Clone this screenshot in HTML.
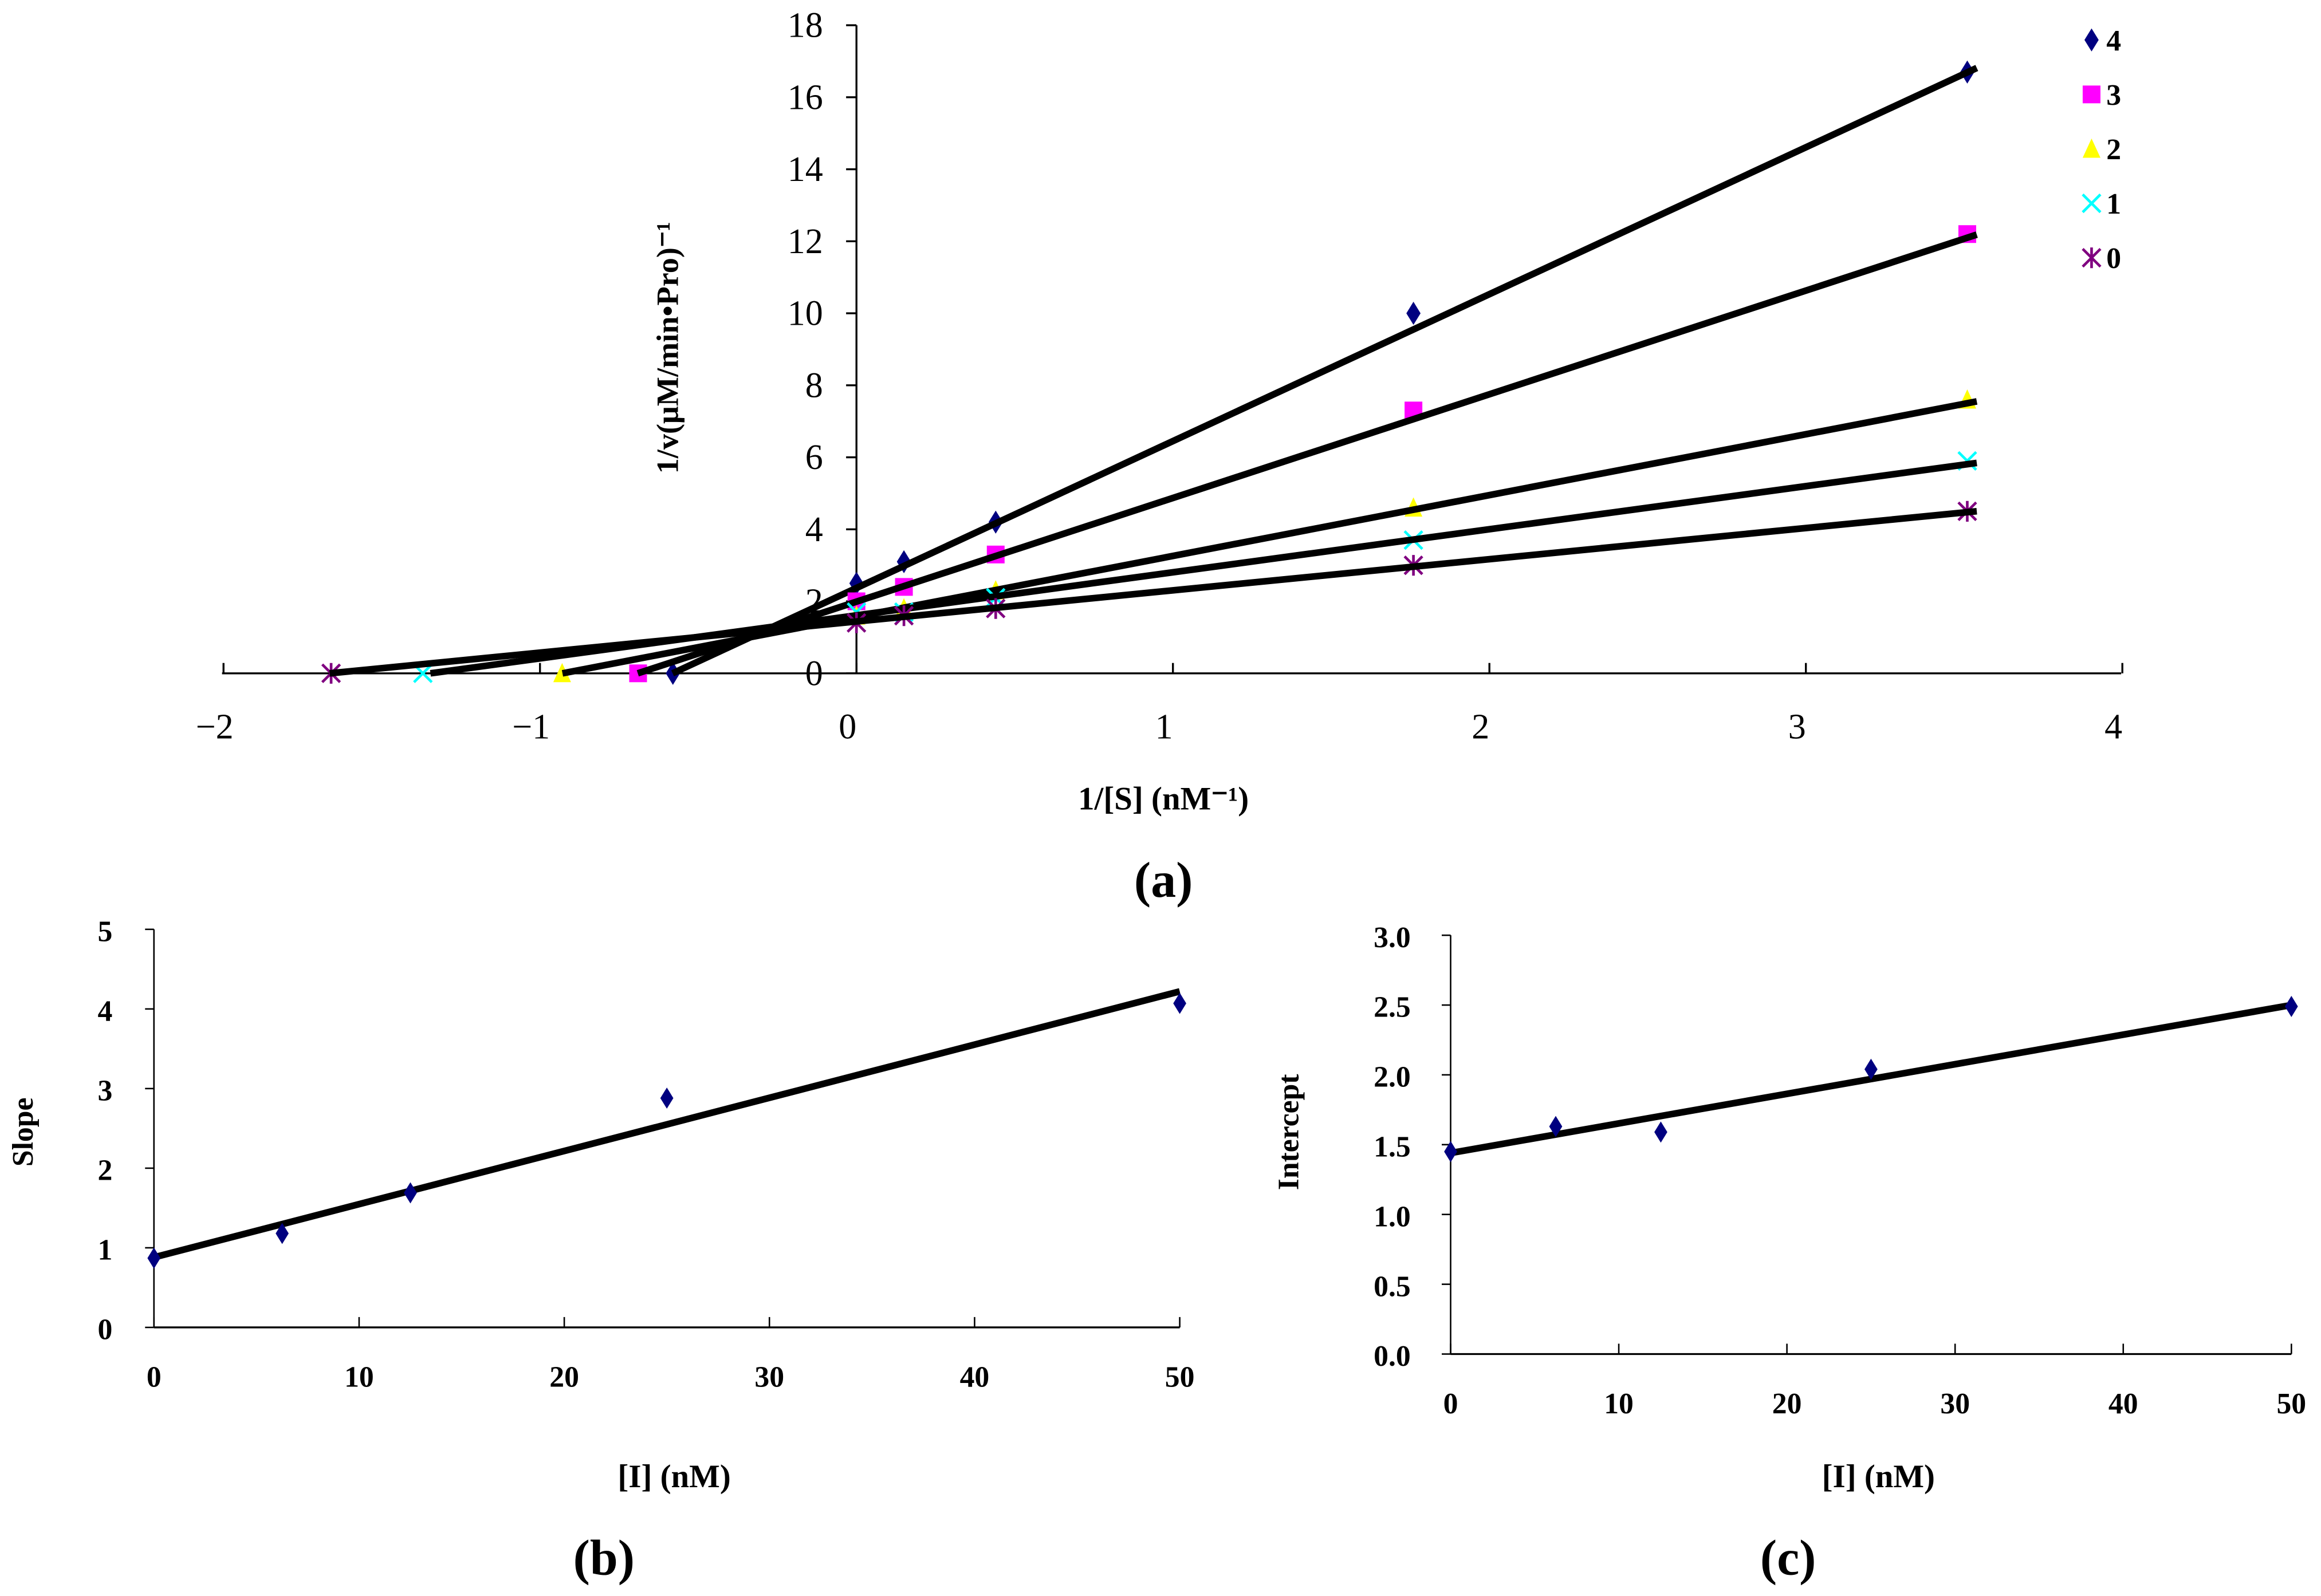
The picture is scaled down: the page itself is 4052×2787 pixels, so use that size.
<!DOCTYPE html>
<html><head><meta charset="utf-8"><style>
html,body{margin:0;padding:0;background:#fff}
svg{display:block}
text{font-family:"Liberation Serif",serif;fill:#000}
</style></head><body>
<svg id="c" width="4052" height="2787" viewBox="0 0 1568 1078.5" preserveAspectRatio="none"></svg>
<script>
// Panel (a) data
const aX = [0.0, 0.15, 0.44, 1.76, 3.51];
const aNames = ['4','3','2','1','0'];
const aY4 = [2.5, 3.1, 4.2, 10.0, 16.7];
const aY3 = [2.0, 2.4, 3.3, 7.3, 12.2];
const aY2 = [1.6, 1.8, 2.3, 4.6, 7.6];
const aY1 = [1.7, 1.7, 2.1, 3.7, 5.9];
const aY0 = [1.4, 1.6, 1.8, 3.0, 4.5];
const aXint = [-0.58, -0.69, -0.93, -1.37, -1.66];
const aSlopes = [4.08, 2.88, 1.69, 1.196, 0.865];
const aIntercepts = [2.37, 1.99, 1.57, 1.61, 1.44];
const aXTicks = [-2, -1, 0, 1, 2, 3, 4];
const aXTickLabels = ['\u22122', '\u22121', '0', '1', '2', '3', '4'];
const aYTicks = [0, 2, 4, 6, 8, 10, 12, 14, 16, 18];
// Panel (b)
const bX = [0, 6.25, 12.5, 25, 50];
const bY = [0.87, 1.18, 1.69, 2.88, 4.07];
const bFit = [0.88, 0.0668];
const bXTicks = [0, 10, 20, 30, 40, 50];
const bYTicks = [0, 1, 2, 3, 4, 5];
// Panel (c)
const cX = [0, 6.25, 12.5, 25, 50];
const cY = [1.45, 1.63, 1.59, 2.04, 2.49];
const cFit = [1.44, 0.0212];
const cXTicks = [0, 10, 20, 30, 40, 50];
const cYTicks = [0, 0.5, 1.0, 1.5, 2.0, 2.5, 3.0];

const svg = document.getElementById('c');
const NS = 'http://www.w3.org/2000/svg';
function el(tag, attrs, parent) {
  const e = document.createElementNS(NS, tag);
  for (const k in attrs) e.setAttribute(k, attrs[k]);
  (parent || svg).appendChild(e);
  return e;
}
function txt(s, x, y, size, anchor, weight, parent, rot) {
  const t = el('text', {x: x, y: y, 'font-size': size, 'text-anchor': anchor || 'middle', 'font-weight': weight || 'normal'}, parent);
  if (rot) t.setAttribute('transform', 'rotate(' + rot + ' ' + x + ' ' + y + ')');
  t.textContent = s;
  return t;
}
function diamond(g, x, y, s, color) {
  el('polygon', {points: `${x},${y-s*1.3} ${x+s*0.8},${y} ${x},${y+s*1.3} ${x-s*0.8},${y}`, fill: color}, g);
}
function marker(g, type, x, y) {
  if (type === '4') diamond(g, x, y, 6, '#000080');
  else if (type === '3') el('rect', {x: x-6, y: y-6, width: 12, height: 12, fill: '#ff00ff'}, g);
  else if (type === '2') el('polygon', {points: `${x},${y-7} ${x+6},${y+6} ${x-6},${y+6}`, fill: '#ffff00'}, g);
  else if (type === '1') {
    el('path', {d: `M${x-6},${y-6}L${x+6},${y+6}M${x+6},${y-6}L${x-6},${y+6}`, stroke: '#00ffff', 'stroke-width': 1.8}, g);
  } else {
    el('path', {d: `M${x-6},${y-6}L${x+6},${y+6}M${x+6},${y-6}L${x-6},${y+6}M${x},${y-7}L${x},${y+7}`, stroke: '#800080', 'stroke-width': 1.8}, g);
  }
}

// ---------- Panel A ----------
const gA = el('g', {});


const ax = v => 578.6 + v * 213.8;
const ay = v => 455 - v * 24.33;
let axA = el('g', {}, gA);


el('line', {x1: 150, y1: ay(0), x2: 1433, y2: ay(0), stroke: '#000', 'stroke-width': 1.3}, axA);
el('line', {x1: ax(0), y1: ay(18), x2: ax(0), y2: ay(0), stroke: '#000', 'stroke-width': 1.3}, axA);
aXTicks.forEach((v, i) => {
  el('line', {x1: ax(v), y1: ay(0), x2: ax(v), y2: ay(0) - 7, stroke: '#000', 'stroke-width': 1.3}, axA);
  const t = txt(aXTickLabels[i], ax(v) - 6, 499, 24, 'middle', 'normal', axA);
  
  
});
aYTicks.forEach(v => {
  el('line', {x1: ax(0) - 7, y1: ay(v), x2: ax(0), y2: ay(v), stroke: '#000', 'stroke-width': 1.3}, axA);
  const t = txt(String(v), 556, ay(v) + 8, 24, 'end', 'normal', axA);
  
  
});
const aYs = [aY4, aY3, aY2, aY1, aY0];
aNames.forEach((n, i) => {
  const gs = el('g', {}, gA);
  
  
  aX.forEach((xv, j) => marker(gs, n, ax(xv), ay(aYs[i][j])));
  marker(gs, n, ax(aXint[i]), ay(0));
  const x1 = -aIntercepts[i] / aSlopes[i], x2 = 3.54;
  const ln = el('line', {x1: ax(x1), y1: ay(0), x2: ax(x2), y2: ay(aSlopes[i] * x2 + aIntercepts[i]), stroke: '#000', 'stroke-width': 4.5}, gs);
  
  
  const lg = el('g', {}, gA);
  
  
  const ly = 27 + i * 36.8;
  marker(lg, n, 1413, ly);
  txt(n, 1423, ly + 7, 20, 'start', 'bold', lg);
});
let t;
t = txt('1/v(\u03bcM/min\u2022Pro)\u207b\u00b9', 458, 235, 21, 'middle', 'bold', gA, -90);


t = txt('1/[S] (nM\u207b\u00b9)', 786, 547, 22, 'middle', 'bold', gA);


t = txt('(a)', 786, 606, 34, 'middle', 'bold', gA);



// ---------- Panel B & C ----------
function smallPanel(name, X, Y, fit, xt, yt, x0, x1, y0, yTop, yMax, ylabFmt, ytitle, ytitleX, label, labelX, axisLeftX) {
  const g = el('g', {});
  
  
  const sx = v => x0 + v * (x1 - x0) / 50;
  const sy = v => y0 - v * (y0 - yTop) / yMax;
  el('line', {x1: sx(0), y1: sy(0), x2: sx(50), y2: sy(0), stroke: '#000', 'stroke-width': 1.3}, g);
  el('line', {x1: sx(0), y1: sy(yMax), x2: sx(0), y2: sy(0), stroke: '#000', 'stroke-width': 1}, g);
  xt.forEach(v => {
    el('line', {x1: sx(v), y1: sy(0), x2: sx(v), y2: sy(0) - 7, stroke: '#000', 'stroke-width': 1}, g);
    const tt = txt(String(v), sx(v), sy(0) + 40, 20, 'middle', 'bold', g);
    
    
  });
  yt.forEach(v => {
    el('line', {x1: sx(0) - 6, y1: sy(v), x2: sx(0), y2: sy(v), stroke: '#000', 'stroke-width': 1}, g);
    const tt = txt(ylabFmt(v), axisLeftX, sy(v) + 8, 20, 'end', 'bold', g);
    
    
  });
  const ln = el('line', {x1: sx(0), y1: sy(fit[0]), x2: sx(50), y2: sy(fit[0] + fit[1] * 50), stroke: '#000', 'stroke-width': 4.5}, g);
  
  
  X.forEach((xv, i) => diamond(g, sx(xv), sy(Y[i]), 5.5, '#000080'));
  let tt = txt(ytitle, ytitleX, 765, 20, 'middle', 'bold', g, -90);
  
  
  tt = txt('[I] (nM)', (x0 + x1) / 2 + 5, 1005, 22, 'middle', 'bold', g);
  
  
  tt = txt(label, labelX, 1064, 34, 'middle', 'bold', g);
  
  
}
smallPanel('b', bX, bY, bFit, bXTicks, bYTicks, 104, 797, 897, 628, 5, v => String(v), 'Slope', 22, '(b)', 408, 76);
smallPanel('c', cX, cY, cFit, cXTicks, cYTicks, 980, 1548, 915, 632, 3, v => v.toFixed(1), 'Intercept', 877, '(c)', 1208, 953);
</script>
</body></html>
